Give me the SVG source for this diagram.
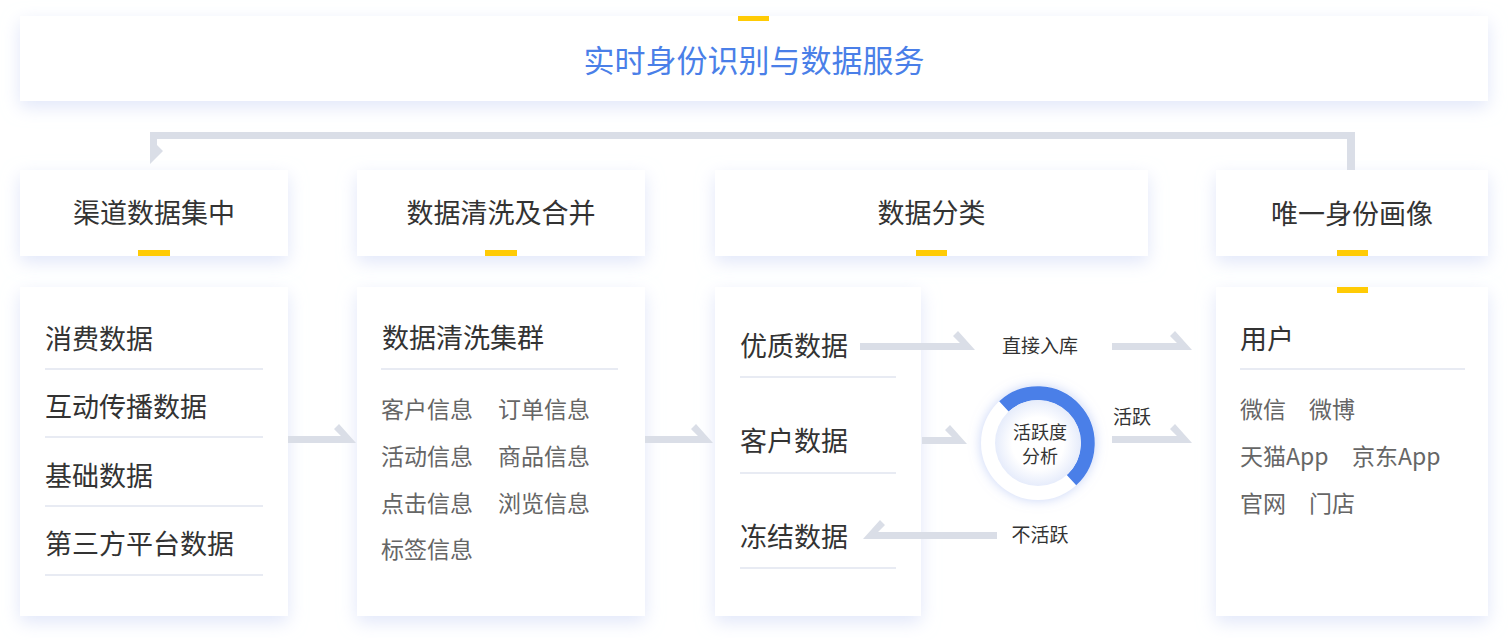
<svg xmlns="http://www.w3.org/2000/svg" width="1508" height="640" viewBox="0 0 1508 640">
<defs>
<filter id="sh" x="-20%" y="-30%" width="140%" height="170%">
<feDropShadow dx="0" dy="6" stdDeviation="9" flood-color="#d3dcf7" flood-opacity="0.7"/>
</filter>
<filter id="glow" x="-50%" y="-50%" width="200%" height="200%">
<feDropShadow dx="0" dy="0" stdDeviation="6" flood-color="#b9c9f5" flood-opacity="0.8"/>
</filter>
<radialGradient id="inner" cx="0.5" cy="0.5" r="0.5">
<stop offset="0.6" stop-color="#ffffff"/>
<stop offset="1" stop-color="#e6ecfb"/>
</radialGradient>
<style>
.card{fill:#ffffff;filter:url(#sh)}
.bar{fill:#ffcb05}
.t{font-family:"Noto Sans CJK SC","Noto Sans",sans-serif;fill:#333333}
.h{font-size:27px}
.m{font-size:27px}
.s{font-size:23px;fill:#666666}
.l{font-size:19px}
.c{font-size:18px}
.div{stroke:#e8ebf3;stroke-width:2}
.arr{fill:#dadee7}
</style>
</defs>
<rect width="1508" height="640" fill="#ffffff"/>

<g id="banner">
<rect class="card" x="20" y="16" width="1468" height="85"/>
<rect class="bar" x="738" y="16" width="31" height="5"/>
<text class="t" x="754" y="72" font-size="31" text-anchor="middle" style="fill:#4a7fe8">实时身份识别与数据服务</text>
</g>

<g id="h1">
<rect class="card" x="20" y="170" width="268" height="86"/>
<rect class="bar" x="138" y="250" width="32" height="6"/>
<text class="t h" x="154" y="223" text-anchor="middle">渠道数据集中</text>
</g>
<g id="h2">
<rect class="card" x="357" y="170" width="288" height="86"/>
<rect class="bar" x="485" y="250" width="32" height="6"/>
<text class="t h" x="501" y="223" text-anchor="middle">数据清洗及合并</text>
</g>
<g id="h3">
<rect class="card" x="715" y="170" width="433" height="86"/>
<rect class="bar" x="916" y="250" width="31" height="6"/>
<text class="t h" x="931.5" y="223" text-anchor="middle">数据分类</text>
</g>
<g id="h4">
<rect class="card" x="1216" y="170" width="272" height="86"/>
<rect class="bar" x="1337" y="250" width="31" height="6"/>
<text class="t h" x="1352" y="224" text-anchor="middle">唯一身份画像</text>
</g>

<g id="b1">
<rect class="card" x="20" y="287" width="268" height="329"/>
<text class="t m" x="45" y="349">消费数据</text>
<line class="div" x1="45" y1="369" x2="263" y2="369"/>
<text class="t m" x="45" y="417">互动传播数据</text>
<line class="div" x1="45" y1="437" x2="263" y2="437"/>
<text class="t m" x="45" y="486">基础数据</text>
<line class="div" x1="45" y1="506" x2="263" y2="506"/>
<text class="t m" x="45" y="554">第三方平台数据</text>
<line class="div" x1="45" y1="575" x2="263" y2="575"/>
</g>

<g id="b2">
<rect class="card" x="357" y="287" width="288" height="329"/>
<text class="t m" x="382" y="348">数据清洗集群</text>
<line class="div" x1="381" y1="369" x2="618" y2="369"/>
<text class="t s" x="381" y="418">客户信息</text>
<text class="t s" x="498" y="418">订单信息</text>
<text class="t s" x="381" y="465">活动信息</text>
<text class="t s" x="498" y="465">商品信息</text>
<text class="t s" x="381" y="512">点击信息</text>
<text class="t s" x="498" y="512">浏览信息</text>
<text class="t s" x="381" y="558">标签信息</text>
</g>

<g id="b3">
<rect class="card" x="715" y="287" width="206" height="329"/>
<text class="t m" x="740" y="356">优质数据</text>
<line class="div" x1="740" y1="377" x2="896" y2="377"/>
<text class="t m" x="740" y="451">客户数据</text>
<line class="div" x1="740" y1="473" x2="896" y2="473"/>
<text class="t m" x="740" y="547">冻结数据</text>
<line class="div" x1="740" y1="568" x2="896" y2="568"/>
</g>

<g id="b4">
<rect class="card" x="1216" y="287" width="272" height="329"/>
<rect class="bar" x="1337" y="287" width="31" height="6"/>
<text class="t m" x="1240" y="349">用户</text>
<line class="div" x1="1240" y1="369" x2="1465" y2="369"/>
<text class="t s" x="1240" y="418">微信</text>
<text class="t s" x="1309" y="418">微博</text>
<text class="t s" x="1240" y="465">天猫App</text>
<text class="t s" x="1352" y="465">京东App</text>
<text class="t s" x="1240" y="512">官网</text>
<text class="t s" x="1309" y="512">门店</text>
</g>

<g id="connectors">
<path class="arr" d="M1355,170 L1355,132 L150,132 L150,164 L163,151 L157,145 L157,139 L1347,139 L1347,170 Z"/>
<path class="arr" d="M288,436 L341,436 L334,429 L339,424 L356,443 L288,443 Z"/>
<path class="arr" d="M645,436 L698,436 L691,429 L696,424 L713,443 L645,443 Z"/>
<path class="arr" d="M860,343 L960,343 L953,336 L958,331 L975,350 L860,350 Z"/>
<path class="arr" d="M1112,343 L1177,343 L1170,336 L1175,331 L1192,350 L1112,350 Z"/>
<path class="arr" d="M922,437 L952,437 L945,430 L950,425 L967,444 L922,444 Z"/>
<path class="arr" d="M1112,436 L1177,436 L1170,429 L1175,424 L1192,443 L1112,443 Z"/>
<path class="arr" d="M997,532 L878,532 L885,525 L880,520 L863,539 L997,539 Z"/>
</g>

<g id="activity">
<circle cx="1038" cy="443" r="57" fill="#ffffff" filter="url(#glow)"/>
<path d="M1003.9,406.4 A50,50 0 1 1 1071.5,480.2" fill="none" stroke="#4a7fe8" stroke-width="14"/>
<circle cx="1038" cy="443" r="43" fill="url(#inner)"/>
<text class="t c" x="1040" y="439" text-anchor="middle">活跃度</text>
<text class="t c" x="1040" y="463" text-anchor="middle">分析</text>
</g>

<g id="labels">
<text class="t l" x="1040" y="353" text-anchor="middle">直接入库</text>
<text class="t l" x="1113" y="424">活跃</text>
<text class="t l" x="1040" y="542" text-anchor="middle">不活跃</text>
</g>
</svg>
